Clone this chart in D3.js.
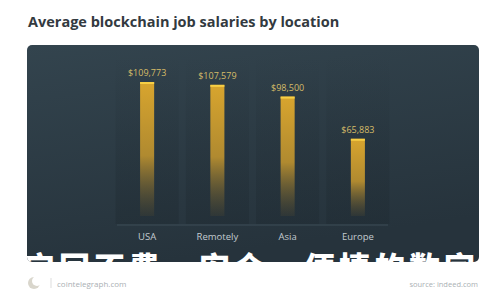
<!DOCTYPE html>
<html><head><meta charset="utf-8">
<script src="https://cdn.jsdelivr.net/npm/d3@7"></script>
<style>html,body{margin:0;padding:0;background:#fff;}svg{display:block;}</style>
</head><body>
<svg id="c" width="500" height="300"></svg>
<script>
const categories = ["USA", "Remotely", "Asia", "Europe"];
const salaries = [109773, 107579, 98500, 65883];
const valueLabels = ["$109,773", "$107,579", "$98,500", "$65,883"];
const titleText = "Average blockchain job salaries by location";
const overlayText = "它回不费，安全，便捷的数字";
const footerLeft = "cointelegraph.com";
const footerRight = "source: indeed.com";

const svg = d3.select("#c");
const defs = svg.append("defs");
const pg = defs.append("linearGradient").attr("id","panelG").attr("x1",0).attr("y1",0).attr("x2",0.3).attr("y2",1);
pg.append("stop").attr("offset","0%").attr("stop-color","#33444e");
pg.append("stop").attr("offset","100%").attr("stop-color","#26333c");
const bg = defs.append("linearGradient").attr("id","barG").attr("x1",0).attr("y1",0).attr("x2",0).attr("y2",1);
bg.append("stop").attr("offset","0%").attr("stop-color","#d8a52e");
bg.append("stop").attr("offset","55%").attr("stop-color","#b08a30");
bg.append("stop").attr("offset","100%").attr("stop-color","#3a3d35").attr("stop-opacity",0.5);
const cg = defs.append("linearGradient").attr("id","colG").attr("x1",0).attr("y1",0).attr("x2",0).attr("y2",1);
cg.append("stop").attr("offset","0%").attr("stop-color","#1c272e").attr("stop-opacity",0);
cg.append("stop").attr("offset","100%").attr("stop-color","#1c272e").attr("stop-opacity",0.35);
defs.append("clipPath").attr("id","panelClip").append("rect")
  .attr("x",27).attr("y",45).attr("width",452).attr("height",217).attr("rx",5);

svg.append("text").attr("x",28).attr("y",27).text(titleText)
  .attr("font-family","Open Sans").attr("font-weight",700).attr("font-size",14.5).attr("fill","#333a3f");

svg.append("rect").attr("x",27).attr("y",45).attr("width",452).attr("height",217).attr("rx",5)
  .attr("fill","url(#panelG)");

const x = d3.scaleBand().domain(categories).range([112, 393]).paddingInner(0.8).paddingOuter(0.4);
const y = d3.scaleLinear().domain([0, 109773]).range([224, 82]);
const step = x.step();

const g = svg.append("g");
g.selectAll("rect.col").data(categories).join("rect").attr("class","col")
  .attr("x", d => x(d) + x.bandwidth()/2 - step*0.45).attr("width", step*0.9)
  .attr("y", 55).attr("height", 169).attr("fill","url(#colG)");
g.append("line").attr("x1",117).attr("x2",388).attr("y1",225).attr("y2",225)
  .attr("stroke","#3d4d57").attr("stroke-width",1);
g.selectAll("rect.bar").data(salaries).join("rect").attr("class","bar")
  .attr("x",(d,i)=>x(categories[i])).attr("width",x.bandwidth())
  .attr("y",d=>y(d)).attr("height",d=>y(0)-y(d)-8).attr("fill","url(#barG)");
g.selectAll("rect.cap").data(salaries).join("rect").attr("class","cap")
  .attr("x",(d,i)=>x(categories[i])).attr("width",x.bandwidth())
  .attr("y",d=>y(d)).attr("height",2).attr("fill","#f7cf45");
g.selectAll("text.val").data(salaries).join("text").attr("class","val")
  .attr("x",(d,i)=>x(categories[i])+x.bandwidth()/2).attr("y",d=>y(d)-6)
  .attr("text-anchor","middle").text((d,i)=>valueLabels[i])
  .attr("font-family","Open Sans").attr("font-size",9).attr("fill","#d6bc68");
const ax = svg.append("g").attr("transform","translate(0,225)")
  .call(d3.axisBottom(x).tickSize(0).tickPadding(8));
ax.select(".domain").remove();
ax.selectAll("text").attr("font-family","Open Sans").attr("font-size",9.5).attr("fill","#c3cbd0");

svg.append("g").attr("clip-path","url(#panelClip)").append("text")
  .attr("x",24).attr("y",279).text(overlayText)
  .attr("font-family","Noto Sans CJK SC").attr("font-weight",900).attr("font-size",31)
  .attr("letter-spacing",4).attr("fill","#ffffff");

const f = svg.append("g");
f.append("circle").attr("cx",34).attr("cy",283).attr("r",6).attr("fill","#d9d6cc");
f.append("circle").attr("cx",37).attr("cy",281).attr("r",5).attr("fill","#fff");
f.append("line").attr("x1",51).attr("x2",51).attr("y1",278).attr("y2",288).attr("stroke","#ddd");
f.append("text").attr("x",57).attr("y",287).text(footerLeft)
  .attr("font-family","Open Sans").attr("font-size",8).attr("fill","#aab0b4");
f.append("text").attr("x",478).attr("y",287).attr("text-anchor","end").text(footerRight)
  .attr("font-family","Open Sans").attr("font-size",7.5).attr("fill","#aab0b4");
</script>
</body></html>
